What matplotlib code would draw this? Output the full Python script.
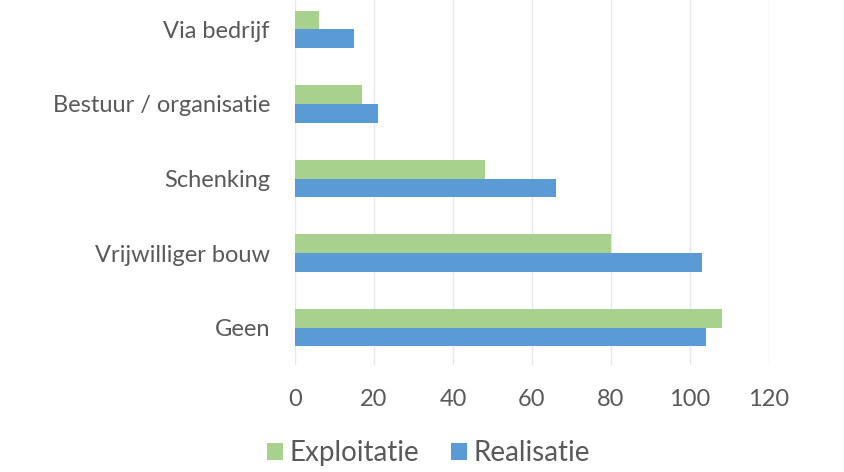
import numpy as np
import matplotlib.pyplot as plt

# categories from bottom to top (Excel order)
categories = ['Geen', 'Vrijwilliger bouw', 'Schenking', 'Bestuur / organisatie', 'Via bedrijf']
exploitatie = [108, 80, 48, 17, 6]
realisatie = [104, 103, 66, 21, 15]
xticks = [0, 20, 40, 60, 80, 100, 120]

green = '#A9D18E'
blue = '#5B9BD5'
text_col = '#595959'

plt.rcParams['font.family'] = ['Lato', 'DejaVu Sans']

fig = plt.figure(figsize=(8.44, 4.72), dpi=100)
ax = fig.add_axes([0.3495, 0.2267, 0.5616, 0.79])

y = np.arange(len(categories))
h = 0.25
ax.barh(y + h / 2, exploitatie, height=h, color=green, label='Exploitatie', zorder=3)
ax.barh(y - h / 2, realisatie, height=h, color=blue, label='Realisatie', zorder=3)

ax.set_xlim(0, 120)
ax.set_ylim(-0.5, len(categories) - 0.5)
ax.set_xticks(xticks)
ax.set_yticks(y)
ax.set_yticklabels(categories)
ax.grid(axis='x', color='#E8E8E8', linewidth=1, zorder=0)
for s in ax.spines.values():
    s.set_visible(False)
ax.tick_params(axis='both', length=0, colors=text_col, labelsize=17)
ax.tick_params(axis='y', pad=18)
ax.tick_params(axis='x', pad=17)

handles, labels = ax.get_legend_handles_labels()
fig.legend(handles, labels, loc='center', bbox_to_anchor=(0.508, 0.04), ncol=2,
           frameon=False, fontsize=20, labelcolor=text_col, handlelength=0.55,
           handleheight=0.55, handletextpad=0.25, columnspacing=1.15,
           borderpad=0, borderaxespad=0)

fig.savefig('out.png', dpi=100)
